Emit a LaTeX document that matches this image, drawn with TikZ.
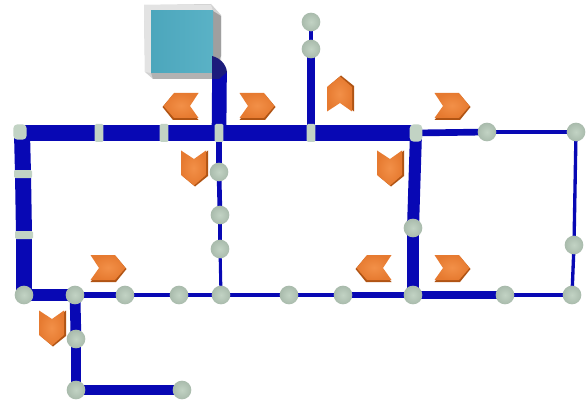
\documentclass[tikz,border=0pt]{standalone}
\usetikzlibrary{backgrounds,calc}
\definecolor{pipeblue}{HTML}{0808B4}
\definecolor{nodegreen}{HTML}{C2D3C4}
\definecolor{nodeedge}{HTML}{A9BBAC}
\definecolor{orangeA}{HTML}{F29048}
\definecolor{orangeB}{HTML}{E67A30}
\definecolor{orangeD}{HTML}{B05414}
\definecolor{tankA}{HTML}{5AB2C6}
\definecolor{tankB}{HTML}{4CA6BC}
\definecolor{navy}{HTML}{1C1C7C}
\tikzset{
  x=0.75pt,y=-0.75pt,
  ball/.style={circle,minimum size=14pt,inner sep=0pt,inner color=nodegreen,outer color=nodeedge},
  vpill/.style={rectangle,rounded corners=1pt,minimum width=6.5pt,minimum height=13.5pt,inner sep=0pt,fill=nodegreen},
  hpill/.style={rectangle,rounded corners=1pt,minimum width=13.5pt,minimum height=6pt,inner sep=0pt,fill=nodegreen},
  pipe/.style={draw=pipeblue,line cap=butt,line join=miter},
  pics/chev/.style={code={
    \fill[orangeD] (-15.5,-11.5) -- (8,-11.5) -- (18.5,1) -- (8,14) -- (-17.5,14) -- (-7,1) -- cycle;
    \shade[inner color=orangeA,outer color=orangeB] (-17.5,-13) -- (7,-13) -- (17.5,0) -- (7,12) -- (-17.5,12) -- (-9,0) -- cycle;
  }},
}
\begin{document}
\begin{tikzpicture}
\useasboundingbox (0,0) rectangle (586,403);
% tank
\fill[gray!35] (144,5) -- (211,4) -- (221,15) -- (221,72) -- (213,79) -- (153,79) -- (145,72) -- cycle;
\fill[gray!75] (213,11) -- (221,16) -- (221,56) -- (213,73) -- cycle;
\fill[gray!60] (151,73) -- (213,73) -- (213,79) -- (153,79) -- cycle;
\fill[gray!22] (144,5) -- (211,5) -- (213,11) -- (151,11) -- (151,73) -- (145,72) -- cycle;
\node[name=tank,rectangle,minimum width=46.5pt,minimum height=46.5pt,inner sep=0pt,left color=tankB,right color=tankA] at (182,42) {};
% nodes
\foreach \n/\x/\y in {a2/311/22,a1/311/49,c1/219/172,c2/220/215,c3/220/249,t2/487/132,r0/576/132,r1/574/245,r2/572/295,b5/505/295,b4/413/295,b3/343/295,b2/289/295,b1/221/295,b0/179/295,bm/125/295,j/75/295,cr/24/295,s1/76/339,s2/76/390,s3/182/390,v1/413/228}
  \node[ball] (\n) at (\x,\y) {};
\foreach \n/\x/\y in {p1/99/133,p2/164/133,p3/219/133,p4/311/133}
  \node[vpill] (\n) at (\x,\y) {};
\node[vpill,minimum width=9.5pt,minimum height=13pt,rounded corners=3pt] (tr) at (416,133) {};
\node[hpill,minimum width=10pt,minimum height=11.5pt,rounded corners=3pt] (tl) at (20,132) {};
\foreach \n/\x/\y in {l1/23/174,l2/24/235}
  \node[hpill] (\n) at (\x,\y) {};
\coordinate (tk) at (219.5,72);
\coordinate (tc) at (22,133);
\begin{scope}[on background layer]
\fill[white] (0,0) rectangle (586,403);
\draw[pipe,line width=12.5pt] (tc) -- (p1.center) -- (p2.center) -- (p3.center) -- (p4.center) -- (tr.center);
\draw[pipe,line width=11pt] (tk) -- (p3.center);
\draw[pipe,line width=5.5pt] (p4.center) -- (a1.center);
\draw[pipe,line width=2.5pt] (a1.center) -- (a2.center);
\draw[pipe,line width=5pt] (p3.center) -- (c1.center);
\draw[pipe,line width=3.5pt] (c1.center) -- (c2.center);
\draw[pipe,line width=2.8pt] (c2.center) -- (c3.center);
\draw[pipe,line width=2.3pt] (c3.center) -- (b1.center);
\draw[pipe,line width=9pt] (tr.center) -- (v1.center);
\draw[pipe,line width=9pt] (v1.center) -- (b4.center);
\draw[pipe,line width=5pt] (tr.center) -- (t2.center);
\draw[pipe,line width=3.5pt] (t2.center) -- (r0.center);
\draw[pipe,line width=2.5pt] (r0.center) -- (r1.center);
\draw[pipe,line width=2.5pt] (r1.center) -- (r2.center);
\draw[pipe,line width=3pt] (r2.center) -- (b5.center);
\draw[pipe,line width=6.5pt] (b5.center) -- (b4.center);
\draw[pipe,line width=5pt] (b4.center) -- (b3.center);
\draw[pipe,line width=3.5pt] (b3.center) -- (b2.center);
\draw[pipe,line width=2.5pt] (b2.center) -- (b1.center);
\draw[pipe,line width=2.5pt] (b1.center) -- (b0.center);
\draw[pipe,line width=2.5pt] (b0.center) -- (bm.center);
\draw[pipe,line width=4.5pt] (bm.center) -- (j.center);
\draw[pipe,line width=8.5pt] (j.center) -- (cr.center);
\draw[pipe,line width=12pt] (cr.center) -- (l2.center);
\draw[pipe,line width=12pt] (l2.center) -- (l1.center);
\draw[pipe,line width=12pt] (l1.center) -- (tc);
\draw[pipe,line width=8pt] (j.center) -- (s1.center);
\draw[pipe,line width=8pt] (s1.center) -- (s2.center);
\draw[pipe,line width=7pt] (s2.center) -- (s3.center);
\end{scope}
\fill[navy] (212,56) .. controls (220,58) and (226,64) .. (227,72) -- (227,72) -- (219,79) -- (212,79) -- cycle;
% chevrons
\pic[xscale=-1] at (181,106) {chev};
\pic at (257,106) {chev};
\pic[rotate=-90,yscale=-1] at (194,168) {chev};
\pic[rotate=90] at (340,94) {chev};
\pic at (108,268) {chev};
\pic[rotate=-90,yscale=-1] at (52,328) {chev};
\pic at (452,106) {chev};
\pic[rotate=-90,yscale=-1] at (390,168) {chev};
\pic[xscale=-1] at (374,268) {chev};
\pic at (452,268) {chev};
\end{tikzpicture}
\end{document}
